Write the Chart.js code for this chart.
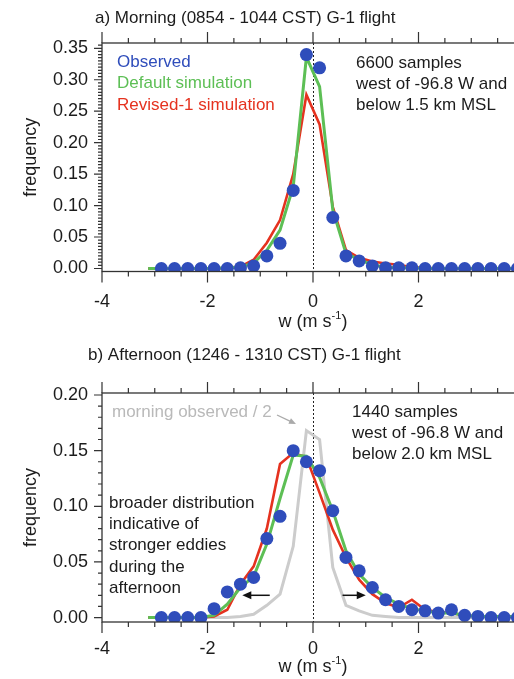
<!DOCTYPE html>
<html><head><meta charset="utf-8">
<script src="https://cdn.jsdelivr.net/npm/chart.js@4.4.1/dist/chart.umd.min.js"></script>
<style>
html,body{margin:0;padding:0;background:#fff;overflow:hidden;width:514px;height:679px;}
.panel{position:absolute;left:0;}
#p1{top:0;width:540px;height:340px;}
#p2{top:340px;width:540px;height:339px;}
</style></head><body>
<div class="panel" id="p1"><canvas id="c1" width="540" height="340"></canvas></div>
<div class="panel" id="p2"><canvas id="c2" width="540" height="339"></canvas></div>
<script>
// ---- data (bin centres of vertical velocity w, m/s) ----
const wBins = [-3.125,-2.875,-2.625,-2.375,-2.125,-1.875,-1.625,-1.375,-1.125,-0.875,-0.625,-0.375,-0.125,0.125,0.375,0.625,0.875,1.125,1.375,1.625,1.875,2.125,2.375,2.625,2.875,3.125,3.375,3.625,3.875];

const morningObserved = [null,0.000,0.000,0.000,0.000,0.000,0.000,0.001,0.004,0.020,0.040,0.124,0.340,0.319,0.081,0.020,0.012,0.004,0.001,0.001,0.001,0.000,0.000,0.000,0.000,0.000,0.000,0.000,0.000];
const morningDefault  = [0,0,0,0,0,0,0.001,0.002,0.009,0.029,0.061,0.130,0.336,0.289,0.093,0.024,0.014,0.006,0.002,0.001,0.001,0,0,0,0,0,0,0,0];
const morningRevised  = [0,0,0,0,0,0,0.001,0.003,0.014,0.041,0.077,0.150,0.276,0.229,0.098,0.029,0.017,0.011,0.008,0.006,0.002,0.001,0,0,0,0,0,0,0];

const afternoonObserved = [null,0.000,0.000,0.000,0.000,0.008,0.023,0.030,0.036,0.071,0.091,0.150,0.140,0.132,0.096,0.054,0.042,0.027,0.016,0.010,0.007,0.006,0.004,0.007,0.002,0.001,0.000,0.000,0.000];
const afternoonDefault  = [0,0,0,0,0,0.002,0.012,0.027,0.037,0.066,0.107,0.146,0.145,0.126,0.096,0.060,0.039,0.027,0.018,0.012,0.008,0.006,0.004,0.004,0.002,0.001,0.001,0.001,0.001];
const afternoonRevised  = [0,0,0,0,0,0.001,0.007,0.030,0.046,0.080,0.138,0.148,0.144,0.112,0.079,0.054,0.034,0.021,0.013,0.009,0.016,0.007,0.005,0.004,0.002,0.001,0.001,0.001,0];
const morningObservedHalf = [0,0,0,0,0,0,0,0.001,0.003,0.011,0.021,0.064,0.168,0.160,0.045,0.011,0.006,0.002,0.001,0,0,0,0,0,0,0,0,0,0];

const xTickLabels = [-4,-2,0,2];
const yTicksMorning = [0.00,0.05,0.10,0.15,0.20,0.25,0.30,0.35];
const yTicksAfternoon = [0.00,0.05,0.10,0.15,0.20];

const seriesNames = ['Observed','Default simulation','Revised-1 simulation','morning observed / 2'];
// ---- styling ----
const FONT = '"Liberation Sans", Arial, Helvetica, sans-serif';
const BLUE = '#2f4dbb', GREEN = '#5dbf55', RED = '#e5321f', GREY = '#cccccc', INK = '#1c1c1c';

function pts(vals){ return wBins.map((w,i)=>({x:w, y:vals[i]})); }

function pointSet(label, vals){
  return {label, data: pts(vals), showLine:false, pointRadius:6.5, pointHoverRadius:6.5, clip:0,
    pointBackgroundColor:BLUE, pointBorderColor:BLUE, pointBorderWidth:0, borderColor:BLUE, backgroundColor:BLUE};
}
function lineSet(label, vals, color, width){
  return {label, data: pts(vals), borderColor:color, backgroundColor:color, borderWidth:width, clip:0,
    pointRadius:0, tension:0, fill:false, spanGaps:false};
}

const framePlugin = {
  id:'frame',
  beforeDatasetsDraw(chart){
    const {ctx, chartArea:a, scales:{x}} = chart;
    const px = x.getPixelForValue(0);
    ctx.save();
    ctx.strokeStyle = '#222'; ctx.lineWidth = 1; ctx.setLineDash([2,2]);
    ctx.beginPath(); ctx.moveTo(px+0.5, a.top); ctx.lineTo(px+0.5, a.bottom); ctx.stroke();
    ctx.restore();
  },
  afterDraw(chart, args, cfg){
    const {ctx, chartArea:a, scales:{x,y}} = chart;
    ctx.save();
    // frame
    ctx.strokeStyle = '#333'; ctx.lineWidth = 1.3; ctx.setLineDash([]);
    ctx.strokeRect(a.left, a.top, a.right-a.left, a.bottom-a.top);
    // x ticks
    ctx.lineWidth = 1.2;
    ctx.beginPath();
    for (let v = -4; v <= 4.0001; v += 0.5){
      const p = x.getPixelForValue(v);
      const major = Math.abs(v/2 - Math.round(v/2)) < 1e-6;
      const L = major ? 11 : 5;
      ctx.moveTo(p, a.bottom); ctx.lineTo(p, a.bottom + L);
      ctx.moveTo(p, a.top); ctx.lineTo(p, a.top - L);
    }
    // y ticks
    const step = cfg.yMinorStep;
    for (let k = 0; k*step <= y.max + 1e-9; k++){
      const v = k*step;
      const p = y.getPixelForValue(v);
      const major = Math.abs(v/0.05 - Math.round(v/0.05)) < 1e-6;
      const L = major ? 8 : 4;
      ctx.moveTo(a.left, p); ctx.lineTo(a.left - L, p);
      ctx.moveTo(a.right, p); ctx.lineTo(a.right + L, p);
    }
    ctx.stroke();

    // panel title
    ctx.fillStyle = INK; ctx.textBaseline = 'middle'; ctx.textAlign = 'left';
    ctx.font = '17px ' + FONT;
    ctx.fillText(cfg.title.text, cfg.title.x, cfg.title.y);

    // x axis title with superscript
    const cx = (a.left + a.right)/2, ty = cfg.xTitleY;
    const t1 = 'w (m s', t3 = ')';
    ctx.font = '11px ' + FONT; const w2 = ctx.measureText('-1').width;
    ctx.font = '18px ' + FONT;
    const w1 = ctx.measureText(t1).width, w3 = ctx.measureText(t3).width;
    let sx = cx - (w1 + w2 + w3)/2;
    ctx.fillText(t1, sx, ty);
    ctx.font = '11px ' + FONT; ctx.fillText('-1', sx + w1, ty - 6);
    ctx.font = '18px ' + FONT; ctx.fillText(t3, sx + w1 + w2, ty);

    // legend (coloured text)
    if (cfg.legend){
      ctx.font = '17px ' + FONT;
      const ds = chart.data.datasets;
      for (let i = 0; i < cfg.legend.count; i++){
        ctx.fillStyle = ds[i].borderColor;
        ctx.fillText(ds[i].label, cfg.legend.x, cfg.legend.y + i*cfg.legend.dy);
      }
    }
    // notes
    ctx.font = '17px ' + FONT;
    (cfg.notes||[]).forEach(n => {
      ctx.fillStyle = n.color;
      n.lines.forEach((s,i) => ctx.fillText(s, n.x, n.y + i*n.dy));
    });
    // arrows
    (cfg.arrows||[]).forEach(ar => {
      const x0 = ar.px ? ar.from[0] : x.getPixelForValue(ar.from[0]);
      const y0 = ar.px ? ar.from[1] : y.getPixelForValue(ar.from[1]);
      const x1 = ar.px ? ar.to[0] : x.getPixelForValue(ar.to[0]);
      const y1 = ar.px ? ar.to[1] : y.getPixelForValue(ar.to[1]);
      const ang = Math.atan2(y1-y0, x1-x0);
      ctx.strokeStyle = ar.color; ctx.fillStyle = ar.color; ctx.lineWidth = ar.w;
      ctx.beginPath(); ctx.moveTo(x0,y0); ctx.lineTo(x1 - Math.cos(ang)*ar.head*0.8, y1 - Math.sin(ang)*ar.head*0.8); ctx.stroke();
      ctx.beginPath();
      ctx.moveTo(x1,y1);
      ctx.lineTo(x1 - ar.head*Math.cos(ang) + ar.hw*Math.sin(ang), y1 - ar.head*Math.sin(ang) - ar.hw*Math.cos(ang));
      ctx.lineTo(x1 - ar.head*Math.cos(ang) - ar.hw*Math.sin(ang), y1 - ar.head*Math.sin(ang) + ar.hw*Math.cos(ang));
      ctx.closePath(); ctx.fill();
    });
    ctx.restore();
  }
};

function makeChart(id, datasets, yTicks, yMin, yMax, padTop, xHeight, xPad, frameCfg){
  return new Chart(document.getElementById(id), {
    type:'line',
    data:{datasets},
    plugins:[framePlugin],
    options:{
      responsive:false, animation:false, devicePixelRatio:1,
      layout:{padding:{top:padTop, right:16, left:0, bottom:0}},
      plugins:{legend:{display:false}, tooltip:{enabled:false}, title:{display:false}, frame:frameCfg},
      scales:{
        x:{type:'linear', min:-4, max:4,
          afterFit(s){ s.height = xHeight; },
          afterBuildTicks(s){ s.ticks = xTickLabels.map(v=>({value:v})); },
          grid:{display:false, drawTicks:false}, border:{display:false},
          ticks:{padding:xPad, color:INK, font:{family:FONT, size:18}, maxRotation:0, autoSkip:false,
            callback:v=>String(v)}},
        y:{type:'linear', min:yMin, max:yMax,
          afterFit(s){ s.width = 102; },
          afterBuildTicks(s){ s.ticks = yTicks.map(v=>({value:v})); },
          grid:{display:false, drawTicks:false}, border:{display:false},
          title:{display:true, text:'frequency', color:INK, font:{family:FONT, size:18}, padding:{top:20, bottom:0}},
          ticks:{padding:14, color:INK, font:{family:FONT, size:18}, callback:v=>Number(v).toFixed(2)}}
      }
    }
  });
}

makeChart('c1', [
  pointSet(seriesNames[0], morningObserved),
  lineSet(seriesNames[1], morningDefault, GREEN, 3),
  lineSet(seriesNames[2], morningRevised, RED, 2.6)
], yTicksMorning, -0.0048, 0.3584, 43, 68.5, 20, {
  yMinorStep:0.005,
  title:{text:'a) Morning (0854 - 1044 CST) G-1 flight', x:95, y:18},
  xTitleY:322,
  legend:{x:117, y:62, dy:21.5, count:3},
  notes:[{lines:['6600 samples','west of -96.8 W and','below 1.5 km MSL'], x:356, y:63.5, dy:21, color:INK}],
  arrows:[]
});

makeChart('c2', [
  pointSet(seriesNames[0], afternoonObserved),
  lineSet(seriesNames[1], afternoonDefault, GREEN, 3),
  lineSet(seriesNames[2], afternoonRevised, RED, 2.6),
  lineSet(seriesNames[3], morningObservedHalf, GREY, 3)
], yTicksAfternoon, -0.004, 0.2018, 53, 57, 16, {
  yMinorStep:0.01,
  title:{text:'b) Afternoon (1246 - 1310 CST) G-1 flight', x:88, y:15},
  xTitleY:327,
  legend:null,
  notes:[
    {lines:['morning observed / 2'], x:112, y:72, dy:21, color:'#b9b9b9'},
    {lines:['1440 samples','west of -96.8 W and','below 2.0 km MSL'], x:352, y:72, dy:21, color:INK},
    {lines:['broader distribution','indicative of','stronger eddies','during the','afternoon'], x:109, y:163, dy:21.3, color:INK}
  ],
  arrows:[
    {from:[-0.82,0.020], to:[-1.34,0.020], color:'#111', w:1.5, head:9, hw:4},
    {from:[0.56,0.020], to:[1.00,0.020], color:'#111', w:1.5, head:9, hw:4},
    {px:true, from:[277,75], to:[296,84], color:'#aaaaaa', w:1.3, head:7, hw:3}
  ]
});
</script>
</body></html>
